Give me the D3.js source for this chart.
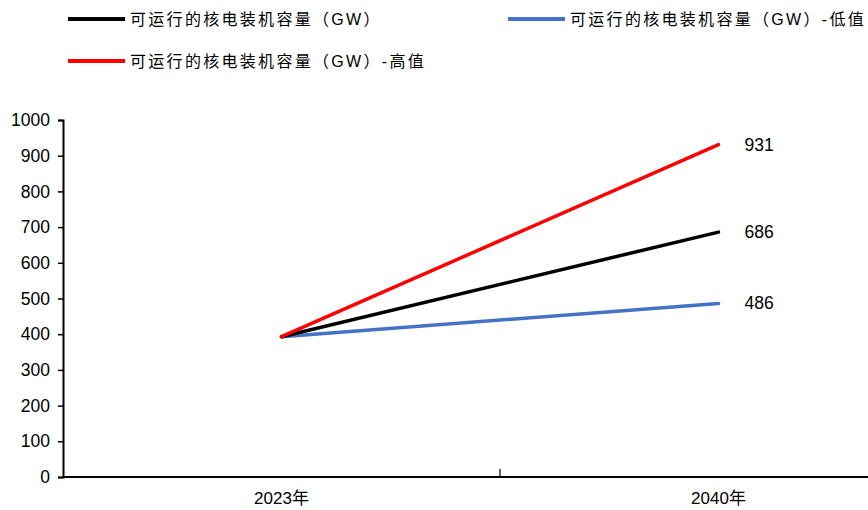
<!DOCTYPE html>
<html>
<head>
<meta charset="utf-8">
<script src="https://cdn.jsdelivr.net/npm/d3@7"></script>
<style>
  html, body { margin: 0; padding: 0; background: #fff; }
  svg { display: block; }
  text { font-family: "Liberation Sans", Arial, "Noto Sans CJK SC", sans-serif; fill: #000; }
</style>
</head>
<body>
<svg id="chart" width="868" height="510"></svg>
<script>
// Nuclear capacity scenarios, GW
const categories = ["2023年", "2040年"];
const seriesNames = ["可运行的核电装机容量（GW）", "可运行的核电装机容量（GW）-低值", "可运行的核电装机容量（GW）-高值"];
const baseValues = [393, 686];
const lowValues = [393, 486];
const highValues = [393, 931];
const yTicks = [0, 100, 200, 300, 400, 500, 600, 700, 800, 900, 1000];

const colors = ["#000000", "#4472C4", "#FF0000"];
const series = [
  { name: seriesNames[0], values: baseValues, color: colors[0] },
  { name: seriesNames[1], values: lowValues, color: colors[1] },
  { name: seriesNames[2], values: highValues, color: colors[2] }
];

const svg = d3.select("#chart");
const plotLeft = 63, plotTop = 120, plotBottom = 477, plotRight = 937;

const x = d3.scaleBand().domain(categories).range([plotLeft, plotRight]).padding(0);
const y = d3.scaleLinear().domain([0, 1000]).range([plotBottom, plotTop]);

// y axis
const yAxis = svg.append("g").attr("transform", `translate(${plotLeft},0)`)
  .call(d3.axisLeft(y).tickValues(yTicks).tickFormat(d3.format("d")).tickSize(5).tickPadding(8));
yAxis.select(".domain").attr("stroke", "#000").attr("stroke-width", 2);
yAxis.selectAll(".tick line").attr("stroke", "#000").attr("stroke-width", 1.5);
yAxis.selectAll(".tick text").attr("font-size", 17.5).attr("font-family", "Liberation Sans, Arial, sans-serif");

// x axis: ticks at band boundaries, pointing inward
const xAxisG = svg.append("g").attr("transform", `translate(0,${plotBottom})`);
xAxisG.append("line").attr("x1", plotLeft).attr("x2", plotRight).attr("y1", 0).attr("y2", 0)
  .attr("stroke", "#000").attr("stroke-width", 2);
const boundaries = categories.slice(1).map(c => x(c));
xAxisG.selectAll("line.bt").data(boundaries).join("line").attr("class", "bt")
  .attr("x1", d => d).attr("x2", d => d).attr("y1", 0).attr("y2", -8)
  .attr("stroke", "#000").attr("stroke-width", 1.2);
xAxisG.selectAll("text.xl").data(categories).join("text").attr("class", "xl")
  .attr("x", d => x(d) + x.bandwidth() / 2).attr("y", 27)
  .attr("text-anchor", "middle").attr("font-size", 17).text(d => d);

// series lines
const line = d3.line().x((d, i) => x(categories[i]) + x.bandwidth() / 2).y(d => y(d));
// draw low, base, high so red sits on top at the shared start
[series[1], series[0], series[2]].forEach(s => {
  svg.append("path").datum(s.values).attr("d", line)
    .attr("fill", "none").attr("stroke", s.color).attr("stroke-width", 3.5)
    .attr("stroke-linecap", "round");
});

// end labels
const lastIdx = categories.length - 1;
series.forEach(s => {
  svg.append("text")
    .attr("x", x(categories[lastIdx]) + x.bandwidth() / 2 + 26)
    .attr("y", y(s.values[lastIdx]) + 6)
    .attr("font-size", 17.5).text(s.values[lastIdx]);
});

// legend
const legendPos = [
  { lx: 68, ly: 19 },
  { lx: 508, ly: 19 },
  { lx: 68, ly: 61 }
];
series.forEach((s, i) => {
  const p = legendPos[i];
  const g = svg.append("g");
  g.append("line").attr("x1", p.lx).attr("x2", p.lx + 57).attr("y1", p.ly).attr("y2", p.ly)
    .attr("stroke", s.color).attr("stroke-width", 4);
  g.append("text").attr("x", p.lx + 62).attr("y", p.ly + 6)
    .attr("font-size", 16).attr("letter-spacing", 2.3)
    .text(s.name);
});
</script>
</body>
</html>
